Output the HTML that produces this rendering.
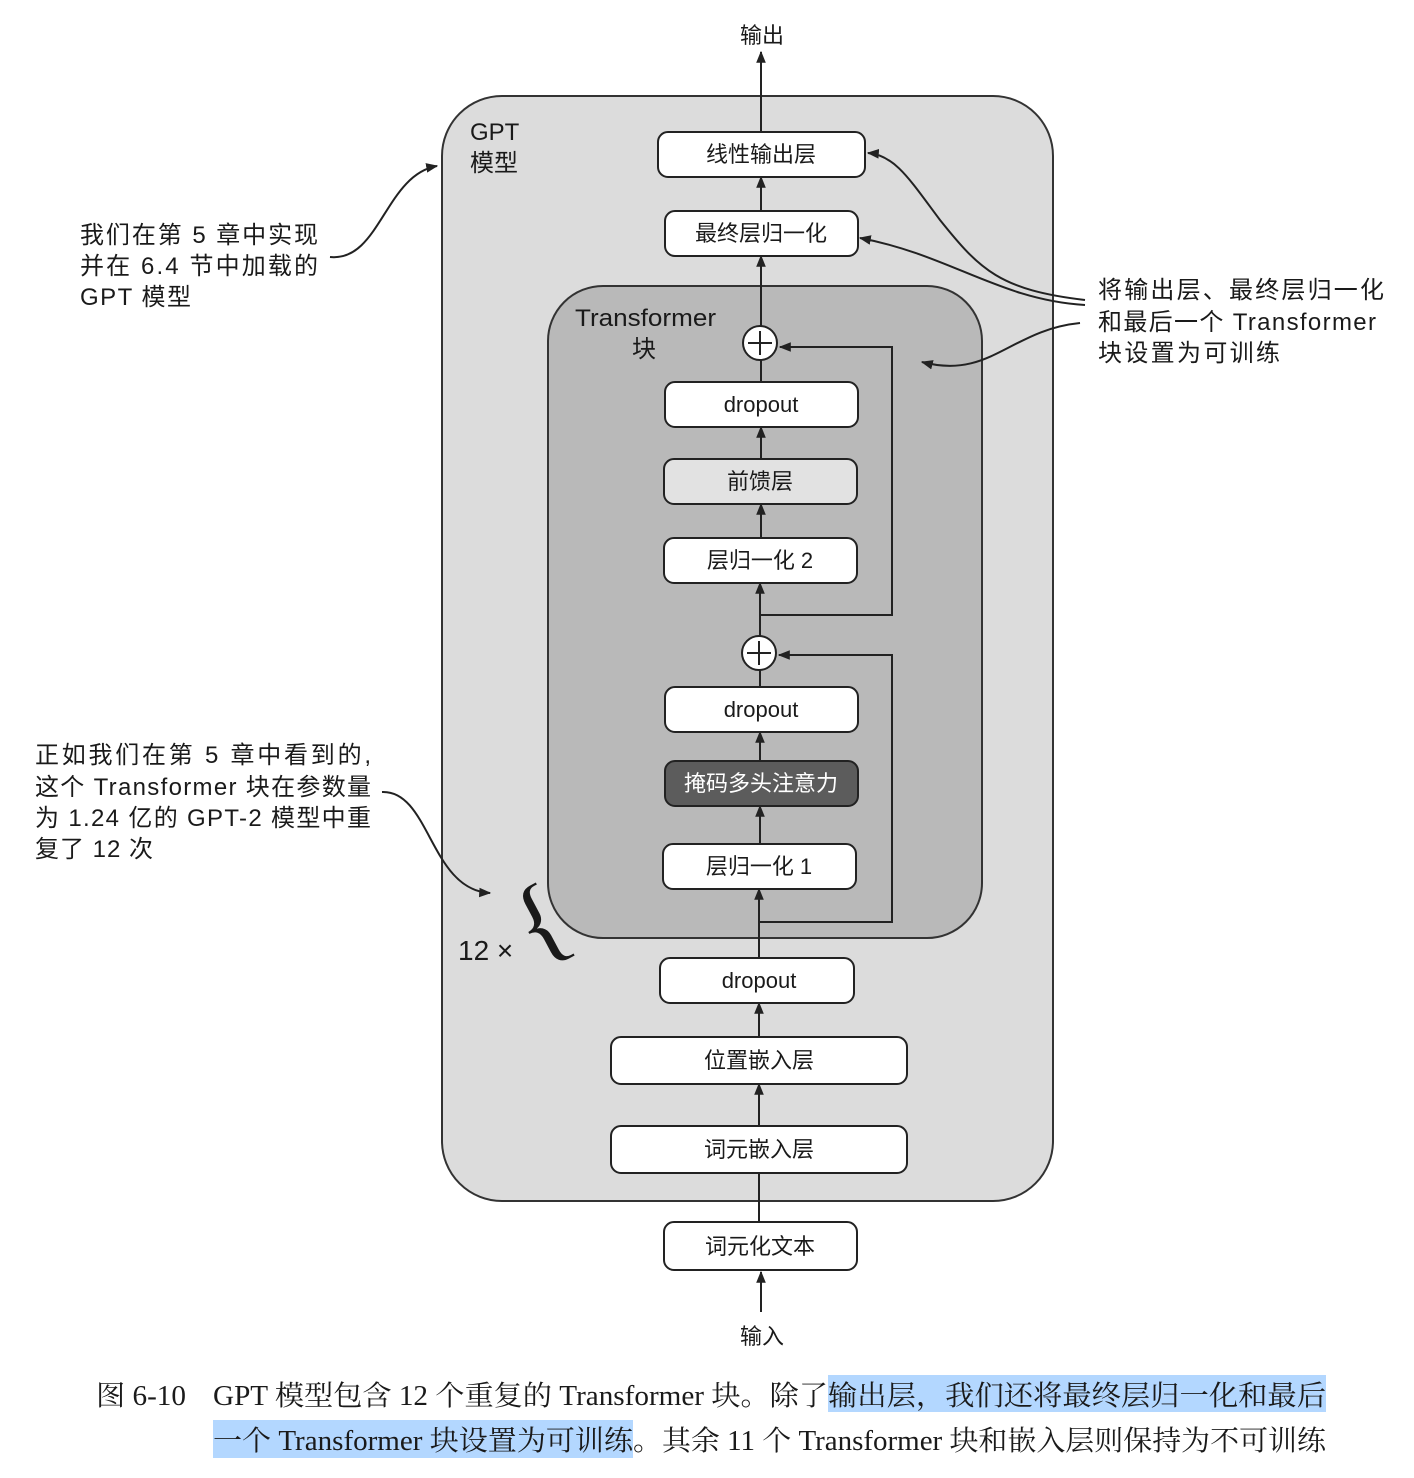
<!DOCTYPE html>
<html><head><meta charset="utf-8"><style>
html,body{margin:0;padding:0;background:#fff}
svg{display:block}
text{font-family:"Liberation Sans","Noto Sans CJK SC",sans-serif;fill:#1a1a1a}
.s{font-family:"Liberation Serif","Noto Serif CJK SC",serif}
</style></head><body>
<svg width="1414" height="1478" viewBox="0 0 1414 1478" xmlns="http://www.w3.org/2000/svg">
<defs>
<marker id="a" viewBox="0 0 10 10" refX="9" refY="5" markerWidth="12" markerHeight="12" markerUnits="userSpaceOnUse" orient="auto"><path d="M0,1 L10,5 L0,9 Z" fill="#222"/></marker>
</defs>
<rect x="442" y="96" width="611" height="1105" rx="60" fill="#dcdcdc" stroke="#333" stroke-width="2"/>
<text x="470" y="140" font-size="24">GPT</text>
<text x="470" y="171" font-size="24">模型</text>
<rect x="548" y="286" width="434" height="652" rx="55" fill="#b9b9b9" stroke="#333" stroke-width="2"/>
<text x="575" y="326" font-size="24" textLength="141" lengthAdjust="spacingAndGlyphs">Transformer</text>
<text x="632" y="357" font-size="24">块</text>

<g stroke="#222" stroke-width="2" fill="none">
<line x1="761" y1="132" x2="761" y2="52" marker-end="url(#a)"/>
<line x1="761" y1="211" x2="761" y2="177" marker-end="url(#a)"/>
<line x1="761" y1="326" x2="761" y2="256" marker-end="url(#a)"/>
<line x1="761" y1="382" x2="761" y2="360"/>
<line x1="761" y1="459" x2="761" y2="427" marker-end="url(#a)"/>
<line x1="761" y1="538" x2="761" y2="504" marker-end="url(#a)"/>
<line x1="760" y1="636" x2="760" y2="583" marker-end="url(#a)"/>
<line x1="760" y1="687" x2="760" y2="670"/>
<line x1="760" y1="761" x2="760" y2="732" marker-end="url(#a)"/>
<line x1="760" y1="844" x2="760" y2="806" marker-end="url(#a)"/>
<line x1="759" y1="958" x2="759" y2="889" marker-end="url(#a)"/>
<line x1="759" y1="1037" x2="759" y2="1003" marker-end="url(#a)"/>
<line x1="759" y1="1126" x2="759" y2="1084" marker-end="url(#a)"/>
<line x1="759" y1="1222" x2="759" y2="1173"/>
<line x1="761" y1="1312" x2="761" y2="1272" marker-end="url(#a)"/>
<polyline points="760,615 892,615 892,347 780,347" marker-end="url(#a)"/>
<polyline points="759,922 892,922 892,655 779,655" marker-end="url(#a)"/>
<path d="M330,257 C380,262 385,175 437,166" marker-end="url(#a)"/>
<path d="M382,792 C430,790 430,890 490,893" marker-end="url(#a)"/>
<path d="M1085,300 C1000,290 980,270 940,220 C910,180 895,155 868,153" marker-end="url(#a)"/>
<path d="M1085,305 C1000,300 950,255 860,238" marker-end="url(#a)"/>
<path d="M1080,323 C1010,330 990,380 922,362" marker-end="url(#a)"/>
</g>
<text class="s" x="0" y="0" font-size="100" transform="translate(534,962) rotate(-28)" style="font-family:'Liberation Serif',serif">{</text>
<text x="458" y="960" font-size="28">12 ×</text>

<g stroke="#222" stroke-width="2">
<rect x="658" y="132" width="207" height="45" rx="10" fill="#fff"/>
<rect x="665" y="211" width="193" height="45" rx="10" fill="#fff"/>
<rect x="665" y="382" width="193" height="45" rx="10" fill="#fff"/>
<rect x="664" y="459" width="193" height="45" rx="10" fill="#e2e2e2"/>
<rect x="664" y="538" width="193" height="45" rx="10" fill="#fff"/>
<rect x="665" y="687" width="193" height="45" rx="10" fill="#fff"/>
<rect x="665" y="761" width="193" height="45" rx="10" fill="#5c5c5c"/>
<rect x="663" y="844" width="193" height="45" rx="10" fill="#fff"/>
<rect x="660" y="958" width="194" height="45" rx="10" fill="#fff"/>
<rect x="611" y="1037" width="296" height="47" rx="10" fill="#fff"/>
<rect x="611" y="1126" width="296" height="47" rx="10" fill="#fff"/>
<rect x="664" y="1222" width="193" height="48" rx="10" fill="#fff"/>
<circle cx="760" cy="343" r="17" fill="#fff"/>
<circle cx="759" cy="653" r="17" fill="#fff"/>
<path d="M760,331 V355 M748,343 H772 M759,641 V665 M747,653 H771" fill="none"/>
</g>
<g font-size="22" text-anchor="middle">
<text x="761" y="162">线性输出层</text>
<text x="761" y="241">最终层归一化</text>
<text x="761" y="412">dropout</text>
<text x="760" y="489">前馈层</text>
<text x="760" y="568">层归一化 2</text>
<text x="761" y="717">dropout</text>
<text x="761" y="791" style="fill:#fff">掩码多头注意力</text>
<text x="759" y="874">层归一化 1</text>
<text x="759" y="988">dropout</text>
<text x="759" y="1068">位置嵌入层</text>
<text x="759" y="1157">词元嵌入层</text>
<text x="760" y="1254">词元化文本</text>
<text x="762" y="43">输出</text>
<text x="762" y="1344">输入</text>
</g>
<g font-size="24" lengthAdjust="spacingAndGlyphs">
<text x="80" y="243" textLength="238">我们在第 5 章中实现</text>
<text x="80" y="274" textLength="238">并在 6.4 节中加载的</text>
<text x="80" y="305" textLength="111">GPT 模型</text>
<text x="35" y="763" textLength="336">正如我们在第 5 章中看到的,</text>
<text x="35" y="795" textLength="336">这个 Transformer 块在参数量</text>
<text x="35" y="826" textLength="336">为 1.24 亿的 GPT-2 模型中重</text>
<text x="35" y="857" textLength="118">复了 12 次</text>
<text x="1098" y="298" textLength="286">将输出层、最终层归一化</text>
<text x="1098" y="330" textLength="278">和最后一个 Transformer</text>
<text x="1098" y="361" textLength="182">块设置为可训练</text>
</g>
<rect x="828" y="1375" width="498" height="37" fill="#b3d7ff"/>
<rect x="213" y="1420" width="420" height="38" fill="#b3d7ff"/>
<g font-size="28" class="s">
<text class="s" x="96" y="1405" textLength="90" lengthAdjust="spacingAndGlyphs">图 6-10</text>
<text class="s" x="213" y="1405" textLength="615" lengthAdjust="spacingAndGlyphs">GPT 模型包含 12 个重复的 Transformer 块。除了</text>
<text class="s" x="828" y="1405" textLength="498" lengthAdjust="spacingAndGlyphs">输出层，我们还将最终层归一化和最后</text>
<text class="s" x="213" y="1450" textLength="420" lengthAdjust="spacingAndGlyphs">一个 Transformer 块设置为可训练</text>
<text class="s" x="633" y="1450" textLength="693" lengthAdjust="spacingAndGlyphs">。其余 11 个 Transformer 块和嵌入层则保持为不可训练</text>
</g>
</svg>
</body></html>
